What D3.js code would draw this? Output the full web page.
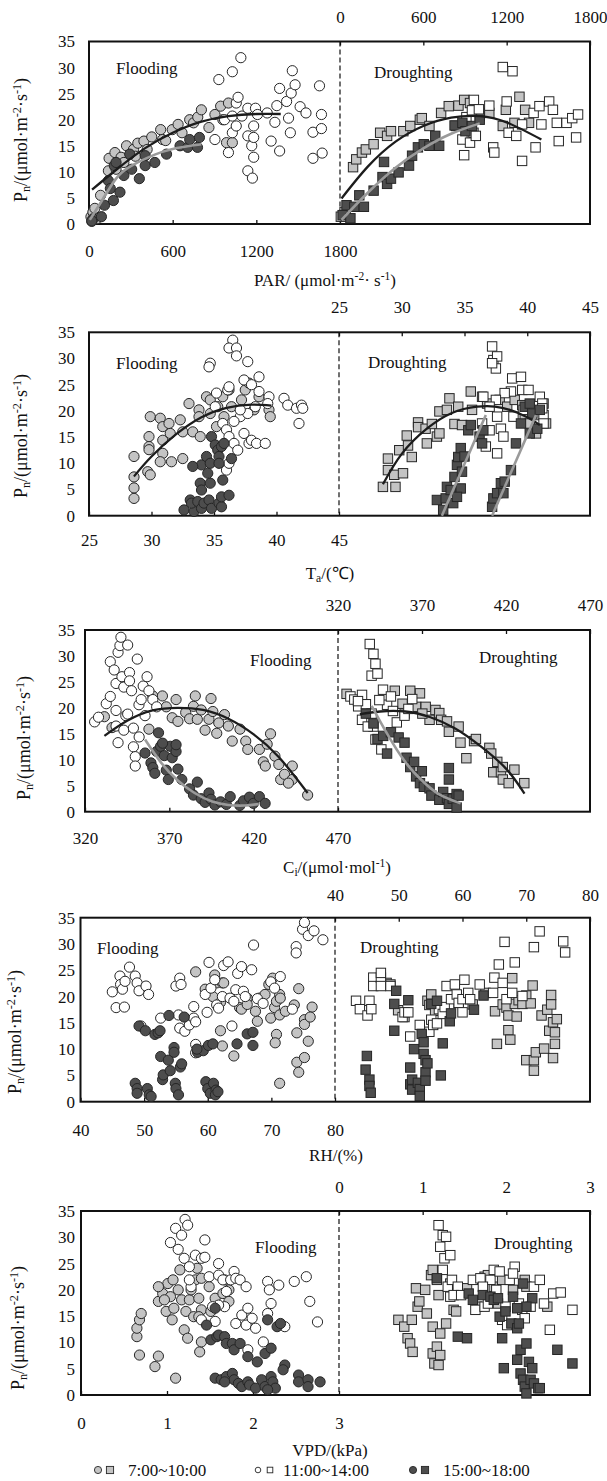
<!DOCTYPE html>
<html>
<head>
<meta charset="utf-8">
<script src="https://cdn.jsdelivr.net/npm/d3@7"></script>
<style>
  body { margin: 0; background: #fff; }
  svg text { font-family: "Liberation Serif", "Times New Roman", serif; }
</style>
</head>
<body>
<svg id="chart" width="607" height="1481"></svg>
<script>
// ---- shared ticks ----
const pnTicks = [0, 5, 10, 15, 20, 25, 30, 35];
const parTicks = [0, 600, 1200, 1800];
const taTicks = [25, 30, 35, 40, 45];
const ciTicks = [320, 370, 420, 470];
const rhTicks = [40, 50, 60, 70, 80];
const vpdTicks = [0, 1, 2, 3];
const legendLabels = ["7:00~10:00", "11:00~14:00", "15:00~18:00"];

// ---- PAR panel ----
const parFloodAM = [[14,1.4],[28,2.3],[42,3],[56,1],[20,0.5],[83,5.5],[139,10.2],[144,12.6],[186,13.7],[194,10.5],[230,12.8],[250,11.8],[269,15],[319,14.3],[333,13],[350,15.5],[394,15.9],[417,14.3],[450,16.7],[514,18.1],[528,16.2],[550,16],[597,18.1],[639,19.1],[667,17.5],[722,20],[750,19.4],[780,20.5],[806,21.9],[860,18.5],[903,21],[944,22.6],[960,20],[986,15.6],[1000,23.2],[1028,15.6]];
const parFloodNoon = [[903,16.2],[931,27.7],[972,20],[1000,13.7],[1028,29.2],[1028,17.5],[1028,20.7],[1056,18.8],[1056,23.2],[1069,24.3],[1089,31.9],[1097,20.7],[1139,22.2],[1139,16.9],[1139,10.2],[1167,15],[1172,8.8],[1181,16.6],[1181,12.8],[1181,18.8],[1194,22.2],[1208,21],[1278,21.3],[1306,15.9],[1333,19.5],[1347,22.7],[1367,26],[1367,14],[1417,23.5],[1431,20.3],[1444,17.5],[1450,25.1],[1458,29.4],[1478,26.7],[1514,22.5],[1556,21.3],[1606,17.6],[1606,12.6],[1653,26.5],[1667,21],[1667,18.3],[1672,13.6]];
const parFloodPM = [[28,1],[20,0.6],[89,1.4],[111,3.6],[139,8.3],[153,6.8],[175,4.5],[181,11.2],[194,11.8],[222,6.1],[250,9.3],[292,13.4],[306,10.5],[361,8.7],[403,13.1],[403,11.2],[472,11.8],[556,13.4],[653,15],[708,14.7],[722,16.2],[778,14.7],[792,16.6]];
const parFloodFitAM = [[22,6.6],[200,10.5],[400,14.5],[600,17.5],[800,19.6],[1000,20.7],[1200,21.1],[1375,21.1]];
const parFloodFitPM = [[6,0.8],[100,4.8],[194,8.7],[300,11.1],[472,13.3],[600,14.4],[750,15.1],[806,15.3]];
const parDroughtAM = [[6,1.4],[33,2.3],[42,1.4],[94,10.9],[117,12.4],[158,13.7],[186,14.3],[242,15.3],[289,17.5],[339,16.9],[367,17.8],[456,17.8],[506,18.8],[575,20],[589,20.3],[644,18.8],[728,21.3],[783,22.6],[836,18.8],[853,22.7],[894,23.8],[936,23.2],[961,17.5],[1006,20.7],[1075,21.3],[1172,18.8],[1194,21.9],[1256,19.4],[1292,24.4],[1333,21.9],[1361,19.4]];
const parDroughtNoon = [[881,16.2],[894,13.2],[910,20.5],[936,15.6],[950,21.8],[964,23.8],[978,16.9],[1000,22],[1075,22.7],[1103,14.7],[1111,13.7],[1172,30.1],[1200,23.5],[1214,17.5],[1242,29.3],[1269,16.9],[1311,12.1],[1311,19.1],[1394,21.3],[1408,14.7],[1436,22.6],[1450,19.1],[1506,23.5],[1533,21.9],[1561,19.4],[1575,15.9],[1631,19.4],[1672,20.3],[1700,16.6],[1714,21]];
const parDroughtPM = [[19,1.7],[47,3.6],[75,1.1],[103,3.3],[139,5.5],[172,3.3],[242,6.4],[306,9],[317,11.9],[339,7.7],[367,8.7],[422,9.9],[497,11.2],[519,13.1],[561,14.7],[603,15.3],[644,15],[686,16.9],[714,15],[825,18.9],[881,19.4],[903,17.8],[950,18.8],[1006,20]];
const parDroughtFitAM = [[11,4.9],[200,11],[400,15.8],[600,18.8],[800,20.4],[1006,20.7],[1200,19.5],[1450,16.2]];
const parDroughtFitPM = [[11,0.8],[200,6],[400,10.8],[600,14.5],[800,17.3],[1006,19.3]];

// ---- Ta panel ----
const taFloodAM = [[28.6,7.4],[28.6,5.3],[28.6,3.3],[28.6,11.3],[29.7,8.4],[29.9,7.8],[29.8,13.2],[29.8,15.1],[29.8,12.6],[29.9,18.9],[30.7,18.6],[30.9,17],[30.9,14.4],[30.9,11.9],[30.7,10.3],[31.6,10.3],[31.4,17.6],[31.5,15.7],[32.3,18.3],[32.5,10.9],[32.5,16],[33,21.4],[33.3,16],[33.8,20.2],[33.8,18.9],[33.9,15.1],[34.4,22.7],[34.7,19.5],[35.2,17],[35.3,20.8],[35.7,22.7],[36.2,24],[36.4,20.8],[37.2,22.1],[37.5,24],[37.8,25.3],[38.2,20.2],[38.6,22.7],[39.4,20.2],[39.5,18.9],[34.7,22.1],[35.8,18.9]];
const taFloodNoon = [[36.5,33.5],[36.2,32],[36.8,32],[36.8,30.5],[37.7,29.4],[34.7,29.1],[34.6,28.4],[37.4,25.9],[38.6,26.5],[38,25],[38.6,23.7],[39.4,22.7],[36.1,24],[36.2,24.6],[35.2,23.4],[35.1,20.8],[35.7,17.6],[36,16.4],[36.2,15.1],[36.6,13.8],[36.9,12.5],[37.4,15.7],[37.8,13.8],[38,14.4],[38.4,13.8],[39.1,13.8],[37.1,18.9],[37.7,19.5],[38.3,20.8],[39.3,21.4],[40.6,22.4],[40.9,21.1],[41.6,20.5],[42,21.1],[42.1,20.5],[41.8,17.6],[36,8.7],[36.2,10],[36.6,18],[37.1,20.2]];
const taFloodPM = [[32.6,1.1],[33.1,3],[33.4,0.8],[33.2,2.4],[33.7,2.7],[34,1.4],[34.2,2.4],[34.6,3],[34.8,1.4],[33.9,6.2],[34,4.9],[34,9.7],[34.4,11.3],[34.5,8.1],[34.7,6.2],[34.7,10],[34.8,15.1],[35.1,13.5],[35.3,12.5],[35.4,11.3],[35.4,10],[35.6,13.2],[35.7,6.8],[35.8,13.8],[35.4,2.4],[35.6,1.7],[35.6,3.6],[36.2,3.9],[36.4,10.9],[33.3,9.4]];
const taFloodFitAM = [[28.6,7.5],[30,11.3],[32,15.6],[34,18.8],[36,20.6],[38,21.2],[39.6,21]];
const taDroughtAM = [[28.5,5.5],[28.9,10.9],[28.9,8.7],[29.4,7.8],[29.5,5.5],[29.8,12.5],[30.1,8.1],[30.4,15.3],[30.5,13.4],[30.8,11.2],[31.3,17.8],[31.3,16.9],[31.9,16.6],[32,13.8],[32.4,17.5],[32.8,15.1],[33,15.7],[33,19.9],[33.6,20.2],[33.8,22.4],[34.2,17.5],[34.5,20.8],[34.8,17.3],[35.5,23.7],[35.6,20.2],[36.4,22.7],[36.8,21.4],[37.8,22.1],[38.4,20.8],[39,22.1],[39.6,21.1],[39.8,18.9],[40.2,17.6],[40.7,15.7],[41,19.2],[41.3,21.4],[41.5,17.6]];
const taDroughtNoon = [[37.2,32.3],[37.3,29.7],[37.6,30.4],[37.5,28.1],[37.2,29.1],[38.8,26.2],[39.5,26.5],[39.6,24],[40.1,24],[38.7,23.7],[38.2,23.4],[37.5,22.1],[37,20.8],[36.5,22.7],[37.6,18.9],[37.9,16.6],[38.1,15.1],[37.6,11.9],[36.7,13.2],[36.4,17.6],[37,16.3],[38.9,18.9],[39.7,20.2],[41,22.7],[41.2,21.4],[41.3,19.2],[41.3,17.6],[41.2,20.5]];
const taDroughtPM = [[32.8,3],[33.3,1.1],[33.5,3.3],[33.6,5.5],[33.9,4.9],[34.1,2.4],[34.2,7.4],[34.4,9.7],[34.5,11.2],[34.7,12.9],[34.8,8.4],[34.7,5.2],[34.4,3.6],[35,11.3],[35.3,16.3],[35.5,17.3],[36.2,15.1],[36.4,13.8],[36.5,16.3],[37.2,1.7],[37.3,3.3],[37.6,4.3],[37.9,6.2],[38.1,4.3],[38.2,6.5],[38.7,8.7],[39.1,13.8],[39.5,17.6],[39.8,20.8],[40.2,21.4],[40.4,19.5],[40.2,15.7],[40.8,16.6],[41,20.2]];
const taDroughtFitAM = [[28.5,6],[30,11.8],[32,16.6],[34,19.6],[36,20.8],[38,20.6],[40,18.8],[41,17.3]];
const taDroughtFitPM1 = [[33.2,0],[36.7,19.2]];
const taDroughtFitPM2 = [[37.2,0],[40.7,19.2]];

// ---- Ci panel ----
const ciFloodAM = [[331.5,18.3],[336,16.2],[357.9,15.9],[360.2,22.3],[365.9,22.3],[368.2,20.2],[371.7,18.1],[374,21.6],[375.1,17.4],[379.7,19.1],[382,17.9],[384.3,20.3],[385.4,22.3],[386.6,17.8],[388.9,19.6],[391.2,15.7],[393.5,17.8],[394.7,21.8],[395.8,19.3],[398.1,15.1],[399.3,17.1],[402.7,18.7],[405,16.5],[407.3,13.6],[411.9,15.9],[415.3,13.6],[416.5,12],[423.4,12],[425.7,9.6],[426.9,8.8],[428,13],[432.6,10.7],[434.9,9.1],[436,6.2],[438.3,7.2],[442.9,8.8],[442.9,6.2],[440.6,5.5],[452,3.2],[430,15]];
const ciFloodNoon = [[325.7,17.3],[328,18.2],[332.6,20.8],[335,22.2],[335,28.9],[337.3,27.3],[338.4,24.7],[339.6,30.7],[340.7,32],[341.3,33.6],[341.9,26],[343,24],[344.2,18.5],[345.3,32.1],[346.4,26.8],[346.4,25.2],[347.6,23.3],[348.7,12.5],[349.8,10.6],[349.8,8.8],[351,29.4],[352,20.6],[353.3,21.6],[354.5,24.2],[355.6,18.5],[356.8,26],[357.9,23.3],[360.2,21.6],[362.5,20.2],[338.4,16.5],[339.6,13.3],[343,15.7],[345.3,18.8],[338.4,19.5],[348.7,16.1],[352.1,14.4]];
const ciFloodPM = [[355.6,11.3],[359.1,9.4],[360.2,8.5],[361.4,7.4],[362.5,11.6],[363.6,15.2],[364.8,12.6],[367,10.8],[368.2,8],[369.4,6.2],[370.5,12.6],[371.7,10.4],[374,11.6],[375.1,8.2],[377.4,6.2],[382,4.4],[384.3,3.2],[386.6,5.7],[388.9,2.5],[391.2,1.8],[393.5,3.6],[394.7,2.4],[397,1.3],[400.4,1.9],[403.8,1.4],[406.1,2.9],[411.8,1.2],[414,2.1],[417.5,2.8],[419.8,1.6],[423.4,2.9],[426.8,1.6],[374,12.9],[366,13.2]];
const ciFloodFitAM = [[331.5,14.6],[345,17.5],[360,19.5],[375,20],[390,19.6],[405,17.9],[420,14.9],[435,10.5],[452,3.6]];
const ciFloodFitPM = [[355.6,13.9],[365,9.5],[375,6],[385,3.6],[395,2],[405,1.3],[415,1.2],[423,1.5]];
const ciDroughtAM = [[325.1,22.7],[353.8,23.3],[358.4,20.8],[363,23.3],[366.5,20.2],[368.8,22.8],[372.2,20.2],[374.5,17.7],[378,19.6],[380.3,19],[381.4,17.7],[384.9,17.4],[386,15.4],[391.8,16.4],[392.9,13.3],[396.4,10.3],[401,13.6],[402.1,14],[410.1,12.3],[411.2,11.2],[412.4,7.6],[414.8,9.6],[417,7.6],[418.1,8.6],[418.1,6.2],[421.6,5.5],[425,8.1],[430.9,5.5],[370.2,18.9],[359.7,18.9]];
const ciDroughtNoon = [[327.4,22.2],[329.7,21.6],[332,20.3],[334.3,22.5],[336.6,20.7],[337.7,18.1],[338.9,32.3],[340,26.2],[341.1,30.4],[342.3,28.5],[343.5,26.6],[341.1,16.4],[342.3,13.9],[345.8,12],[346.8,23.5],[349.2,20.6],[351.5,22.2],[352.7,19.4],[355,17.2],[359.6,18.5],[361.9,19.8],[364.2,21.7],[334.3,17.7],[337.7,16.4],[340,18.9],[331.9,21.3],[344.6,21.5]];
const ciDroughtPM = [[336.6,18.9],[341.1,17],[343.5,14],[346.9,14.6],[349.2,11.2],[351.5,15.3],[356.1,14.3],[359.6,13.3],[360.8,10.4],[363,8.6],[365.3,9.6],[366.5,6.8],[368.8,5.5],[369.9,7.8],[371.1,4.8],[374.5,4.5],[375.6,3.1],[380.3,2.3],[382.6,3.8],[384.9,2.6],[386,1.5],[388.3,2.5],[390.6,0.8],[390.6,3.4],[386,8.4],[386,6.2],[391.8,3.1]];
const ciDroughtFitAM = [[333,18.8],[345,19.3],[360,19.3],[375,18.2],[390,16],[405,12.6],[420,8.3],[431,3.5]];
const ciDroughtFitPM = [[340,20.4],[350,14.6],[360,9.6],[370,6],[380,3.4],[393,1.6]];

// ---- RH panel ----
const rhFloodAM = [[58.1,24.7],[61.1,24.1],[61.4,22.6],[59.6,21.4],[60.8,20],[62.3,22.6],[62.5,22.6],[62,13.5],[62.3,10.6],[62,18.9],[64.1,8.7],[65,17.9],[65.3,17.6],[66.2,19.7],[66.2,18.5],[67.5,17.2],[67.8,15.3],[68.1,19.7],[69,20.4],[69.6,22.3],[69.9,15.9],[70.2,23.5],[70.5,17.9],[70.8,19.1],[70.8,12.8],[70.6,11.2],[71.3,20.4],[71.3,16.5],[71.3,3.5],[72.2,17.2],[73.6,18.4],[74,13.1],[74.3,21.5],[74,7.5],[75.2,8.4],[74.3,5.6],[75.2,15.6],[75.2,14.7],[75.8,11.5],[76.4,18],[76.1,16.1],[71.4,19.7]];
const rhFloodNoon = [[45,20.9],[45.6,17.9],[46.2,23.9],[46.3,22.3],[46.6,21.4],[46.9,18],[47,22.9],[47.7,25.6],[48.6,23.9],[48.9,22.6],[49.2,21.1],[49.5,14.4],[50.3,22],[50.7,20.4],[52.6,15.9],[55,22],[55.6,23.5],[55.8,22.3],[55.4,16.5],[55.6,14],[56.4,13.4],[57.1,14.6],[57.8,18.1],[57.8,15.9],[58.1,10.9],[58.1,9.3],[58.1,15.2],[59.6,20.4],[59.9,17],[60.2,26.5],[60.5,21.6],[61.1,23.2],[61.4,18.4],[61.7,17.8],[62.3,20],[62.5,25.9],[63.2,26.6],[63.5,19.7],[63.8,14.4],[64.1,19.1],[64.4,21.3],[64.7,24.4],[65.3,25.7],[65.6,21],[65.9,20],[66.9,25.1],[67.2,29.8],[67.8,19.6],[68.7,18.7],[69.9,22.8],[70.5,21.6],[71.4,23.8],[73.9,29.5],[73.9,28.3],[74.9,32.8],[75.2,34.1],[75.8,31.6],[76.7,32.5],[78.1,30.8],[73.3,17.6]];
const rhFloodPM = [[48.6,3.5],[48.9,2.5],[48.9,1.6],[49.2,14.4],[50.2,13.5],[50.5,2.5],[50.8,1.3],[51.1,1],[51.7,12.8],[52.2,13.1],[52.5,13.5],[52.6,8.6],[52.9,4.2],[53,5.1],[53.8,7.9],[53.9,16.4],[54.1,5.9],[54.7,10.3],[54.7,9.4],[54.9,3.5],[55,2.5],[55.4,1.3],[55.7,6.6],[55.9,7.2],[56.3,16.1],[58.4,9.4],[59.3,9.7],[60.1,10.7],[60.8,11],[59.7,3.8],[60,2.5],[60.4,1.6],[60.9,3.5],[61.3,2.2],[61.2,1.3],[61.6,1.9],[64.6,11],[66.2,12.9],[67.1,13.2],[67.1,10.7],[58.3,10]];
const rhDroughtAM = [[48.1,22.6],[48.7,22.3],[49.9,17.4],[50.9,16.1],[54.5,19.2],[54.8,18.4],[55.1,20.4],[55.7,17.3],[59.4,18.8],[61.6,18.5],[63.6,20.7],[65.1,17.2],[65.4,11],[66.3,18.5],[66.9,17.9],[67.2,16.4],[67.2,13.6],[67.5,11.8],[67.8,23.5],[68.2,18.6],[68.5,16.2],[68.8,19.3],[69.4,18.6],[70,20.2],[70,7.9],[71,22.1],[71.2,7.9],[71.2,5.9],[71.5,9.4],[72.4,16.4],[72.8,10.1],[73.3,17.5],[73.9,20.3],[73.9,18.5],[73.6,13.5],[74.2,15.1],[74.2,8.3],[74.5,11],[74.5,13.2],[74.8,15.7],[70.7,18.7]];
const rhDroughtNoon = [[43.3,19.2],[43.9,17.6],[45.1,16.4],[45.4,19.2],[45.7,17.6],[46,23.6],[46,22],[47.2,23.6],[47.2,24.5],[47.2,22],[48.7,22],[50.6,16.1],[50.9,17],[51.5,17],[51.8,12.4],[53.3,14.6],[54.8,13.3],[55.1,15.6],[55.4,14.6],[56,14.9],[56.3,17.6],[56.9,16.7],[57.2,18],[57.5,22],[58.2,19.5],[58.8,22.3],[59.1,20.4],[59.4,18.8],[60,19.5],[60.3,23.2],[60,17],[60.9,20.7],[61.2,19.5],[62.7,22.3],[64.8,20.7],[65,23.6],[65.7,26.1],[66.3,22.6],[66.6,30.4],[66.9,19.5],[68.2,26.5],[71.2,29.4],[72.1,32.4],[75.8,30.5],[76.1,28.4],[67.8,20.7],[69.4,20.1]];
const rhDroughtPM = [[45,8.7],[44.8,6.1],[45.4,4.2],[45.4,3],[45.6,1.7],[49.3,18.6],[49.3,13.5],[49.6,21.1],[51.5,19.3],[51.8,3.3],[51.8,6.5],[52.1,2.3],[52.1,4.2],[52.4,10],[53,3.6],[53.3,2.4],[53.3,1.1],[53.6,12.9],[53.9,11.3],[53.9,9.1],[54.2,7.9],[54.2,5.6],[54.2,4],[54.5,7.3],[55.1,18.6],[56,19.2],[56.9,11.1],[56.6,5],[58,15.3],[58.2,16.8],[61.8,17.5],[63.3,20.2]];

// ---- VPD panel ----
const vpdFloodAM = [[0.65,11.1],[0.65,12.7],[0.68,14.3],[0.7,15.5],[0.68,7.6],[0.86,5.4],[0.9,7.4],[0.9,17.8],[0.95,19.3],[0.99,15.9],[1.01,21.2],[1.04,18.7],[1.06,14.3],[1.08,16.5],[1.1,3.2],[1.13,20],[1.15,23.8],[1.17,18.1],[1.2,12.4],[1.22,15.9],[1.24,10.8],[1.26,18.1],[1.28,20],[1.31,14.9],[1.33,21.9],[1.35,24.1],[1.37,18.4],[1.4,16.2],[1.37,14.9],[1.4,22.2],[1.49,20.6],[1.38,8.2],[1.4,10.1],[1.51,15.9],[1.56,18.4],[1.65,19.3],[1.72,20],[1.72,17.8],[1.67,21.9],[0.9,20.6],[0.97,18.1],[1.07,21.9]];
const vpdFloodNoon = [[1.04,29],[1.13,27.7],[1.1,31.7],[1.17,30.4],[1.21,33.4],[1.24,32.3],[1.2,26],[1.26,24.4],[1.33,26.6],[1.4,26],[1.44,29.5],[1.44,26.2],[1.28,20.6],[1.26,21.9],[1.49,22.5],[1.6,25],[1.6,22.8],[1.65,21.9],[1.67,16.8],[1.69,19.7],[1.74,21.9],[1.78,23.5],[1.8,22.2],[1.85,21.9],[1.92,20.6],[1.8,13.6],[1.87,15.2],[1.92,13.3],[1.94,8.6],[1.99,14.6],[2.03,12.7],[1.94,16.5],[2.12,10.1],[2.17,21.6],[2.19,20],[2.21,17.4],[2.17,15.5],[2.3,20.9],[2.37,13],[2.48,21.6],[2.62,22.5],[2.66,17.8],[2.75,13.9],[1.56,14],[1.4,14.3],[1.6,17.1],[1.53,16.8]];
const vpdFloodPM = [[1.46,13.3],[1.56,16.5],[1.51,10.5],[1.58,11.1],[1.6,11.4],[1.67,11.1],[1.69,9.8],[1.76,9.8],[1.78,8.6],[1.85,9.8],[1.94,7.3],[2.05,6.3],[2.14,7.9],[2.21,8.9],[2.17,14.3],[2.28,13],[2.32,13.6],[2.37,5.7],[2.35,4.8],[1.56,3.2],[1.63,2.9],[1.69,3.5],[1.76,4.1],[1.78,2.9],[1.83,2.2],[1.87,1.6],[1.94,2.5],[1.96,1.9],[2.03,1.3],[2.1,2.9],[2.14,1.6],[2.21,3.5],[2.23,2.5],[2.26,1.3],[2.17,1],[2.53,3.8],[2.53,2.5],[2.64,2.9],[2.64,1.6],[2.78,2.5],[1.67,2.5]];
const vpdDroughtAM = [[0.71,14.3],[0.78,13],[0.82,10.8],[0.85,9.8],[0.88,8.2],[0.87,14.3],[0.92,20.3],[0.94,16.8],[0.96,17.8],[1.03,20],[1.05,15.5],[1.1,22.8],[1.12,23.8],[1.12,13],[1.12,7.9],[1.14,6],[1.17,9.2],[1.19,5.7],[1.21,7.6],[1.19,19],[1.21,11.7],[1.28,13.6],[1.33,21.2],[1.37,16.2],[1.4,15.9],[1.53,20.3],[1.65,16.8],[1.74,22.5],[1.78,22.8],[1.85,20.6],[1.9,17.4],[1.95,21.9],[2.08,20],[2.22,21.9],[2.49,16.8],[2.24,20.6]];
const vpdDroughtNoon = [[1.19,32.3],[1.21,28.2],[1.24,30.4],[1.28,30.1],[1.26,26],[1.33,26.6],[1.17,21.9],[1.24,23.8],[1.3,20.6],[1.33,18.7],[1.35,21.9],[1.42,20.6],[1.37,19],[1.46,19],[1.6,21.9],[1.63,16.2],[1.69,22.2],[1.74,16.8],[1.78,17.4],[1.81,21.9],[1.85,23.8],[1.88,20],[1.92,23.5],[1.95,14.3],[1.99,16.8],[2.01,13.3],[2.04,21.9],[2.1,24.4],[2.08,23.1],[2.15,17.4],[2.19,16.2],[2.22,14.6],[2.29,16.8],[2.33,20.6],[2.4,21.9],[2.45,17.4],[2.52,12.4],[2.56,19.3],[2.65,19.5],[2.79,16.2],[1.72,20.6]];
const vpdDroughtPM = [[1.17,22.2],[1.42,11.1],[1.53,10.8],[1.55,19.3],[1.6,18.1],[1.72,19],[1.81,18.7],[1.85,18.1],[1.9,18.4],[1.92,14.9],[1.95,10.8],[1.97,5.1],[1.99,15.9],[2.06,13.6],[2.08,18.7],[2.13,6.7],[2.13,12.7],[2.15,13.6],[2.17,8.6],[2.17,4.1],[2.2,2.9],[2.22,1.6],[2.24,0.3],[2.24,9.8],[2.27,6.3],[2.29,2.9],[2.31,5.1],[2.33,2.2],[2.38,1.3],[2.4,1.3],[2.31,18.4],[2.24,16.8],[2.13,16.5],[2.61,8.6],[2.79,6],[2.2,21.2]];

// ---- styling ----
const SERIF = "'Liberation Serif', 'Times New Roman', serif";
const fills = ["#c4c4c4", "#ffffff", "#4d4d4d"];
const markStroke = "#262626";

const svg = d3.select("#chart");

function richText(sel, parts, size) {
  parts.forEach(([t, kind]) => {
    const ts = sel.append("tspan").text(t);
    if (kind === "sub") ts.attr("baseline-shift", -size * 0.18).attr("font-size", size * 0.68);
    if (kind === "sup") ts.attr("baseline-shift", size * 0.36).attr("font-size", size * 0.68);
  });
}

const pnTitle = [["P"], ["n", "sub"], ["/(μmol·m"], ["-2", "sup"], ["·s"], ["-1", "sup"], [")"]];

const panels = [
  { top: 41.5, bottom: 224, left: 89, mid: 340, domain: [0, 1800], ticks: parTicks,
    padB: 20.5, padT: 19, yTitleX: 27, yTitleY: 140, xTitleY: 280, xTitleX: 325,
    xTitle: [["PAR/ (μmol·m"], ["-2", "sup"], ["· s"], ["-1", "sup"], [")"]],
    flood: [parFloodAM, parFloodNoon, parFloodPM], drought: [parDroughtAM, parDroughtNoon, parDroughtPM],
    floodFits: [[parFloodFitAM, 0], [parFloodFitPM, 1]], droughtFits: [[parDroughtFitAM, 0], [parDroughtFitPM, 1]],
    fLabel: [116, 74], dLabel: [374, 78] },
  { top: 332.3, bottom: 515.7, left: 89, mid: 339, domain: [25, 45], ticks: taTicks,
    padB: 18, padT: 19, yTitleX: 27, yTitleY: 436, xTitleY: 573, xTitleX: 330,
    xTitle: [["T"], ["a", "sub"], ["/(℃)"]],
    flood: [taFloodAM, taFloodNoon, taFloodPM], drought: [taDroughtAM, taDroughtNoon, taDroughtPM],
    floodFits: [[taFloodFitAM, 0]], droughtFits: [[taDroughtFitAM, 0], [taDroughtFitPM1, 1], [taDroughtFitPM2, 1]],
    fLabel: [116, 369], dLabel: [368, 368] },
  { top: 630, bottom: 811.7, left: 85, mid: 338, domain: [320, 470], ticks: ciTicks,
    padB: 20, padT: 19.5, yTitleX: 30, yTitleY: 738, xTitleY: 867, xTitleX: 337,
    xTitle: [["C"], ["i", "sub"], ["/(μmol·mol"], ["-1", "sup"], [")"]],
    flood: [ciFloodAM, ciFloodNoon, ciFloodPM], drought: [ciDroughtAM, ciDroughtNoon, ciDroughtPM],
    floodFits: [[ciFloodFitAM, 0], [ciFloodFitPM, 1]], droughtFits: [[ciDroughtFitAM, 0], [ciDroughtFitPM, 1]],
    fLabel: [250, 666], dLabel: [479, 663] },
  { top: 917.7, bottom: 1101.7, left: 80.5, mid: 335, domain: [40, 80], ticks: rhTicks,
    padB: 22, padT: 17, yTitleX: 21, yTitleY: 1032, xTitleY: 1155, xTitleX: 336,
    xTitle: [["RH/(%)"]],
    flood: [rhFloodAM, rhFloodNoon, rhFloodPM], drought: [rhDroughtAM, rhDroughtNoon, rhDroughtPM],
    floodFits: [], droughtFits: [],
    fLabel: [97, 954], dLabel: [360, 953] },
  { top: 1211, bottom: 1395, left: 81, mid: 339, domain: [0, 3], ticks: vpdTicks,
    padB: 22, padT: 18.5, yTitleX: 24, yTitleY: 1328, xTitleY: 1450, xTitleX: 330,
    xTitle: [["VPD/(kPa)"]],
    flood: [vpdFloodAM, vpdFloodNoon, vpdFloodPM], drought: [vpdDroughtAM, vpdDroughtNoon, vpdDroughtPM],
    floodFits: [], droughtFits: [],
    fLabel: [255, 1253], dLabel: [494, 1249] }
];
const RIGHT = 590;

function drawPanel(p) {
  const g = svg.append("g");
  const y = d3.scaleLinear().domain([0, 35]).range([p.bottom, p.top]);
  const xF = d3.scaleLinear().domain(p.domain).range([p.left, p.mid]);
  const xD = d3.scaleLinear().domain(p.domain).range([p.mid, RIGHT]);
  const fmt = d => String(d);

  // left axis labels
  const axL = g.append("g").attr("transform", `translate(${p.left},0)`)
    .call(d3.axisLeft(y).tickValues(pnTicks).tickFormat(fmt).tickSize(0).tickPadding(p.left - 75));
  axL.select(".domain").remove();

  // bottom axis (flooding scale) with inward ticks
  const axB = g.append("g").attr("transform", `translate(0,${p.bottom})`)
    .call(d3.axisBottom(xF).tickValues(p.ticks).tickFormat(fmt).tickSizeInner(-4).tickSizeOuter(0).tickPadding(p.padB));
  axB.select(".domain").remove();

  // top axis (droughting scale)
  const axT = g.append("g").attr("transform", `translate(0,${p.top})`)
    .call(d3.axisTop(xD).tickValues(p.ticks).tickFormat(fmt).tickSizeInner(-4).tickSizeOuter(0).tickPadding(p.padT));
  axT.select(".domain").remove();

  [axL, axB, axT].forEach(a => a.attr("font-family", SERIF).attr("font-size", 17));
  g.selectAll(".tick text").attr("fill", "#111");
  g.selectAll(".tick line").attr("stroke", "#111").attr("stroke-width", 1.3);

  // frame and divider
  g.append("rect").attr("x", p.left).attr("y", p.top)
    .attr("width", RIGHT - p.left).attr("height", p.bottom - p.top)
    .attr("fill", "none").attr("stroke", "#111").attr("stroke-width", 2);
  g.append("line").attr("x1", p.mid).attr("x2", p.mid).attr("y1", p.top).attr("y2", p.bottom)
    .attr("stroke", "#111").attr("stroke-width", 1.2).attr("stroke-dasharray", "5,3");

  // flooding circles
  p.flood.forEach((series, i) => {
    g.append("g").selectAll("circle").data(series).join("circle")
      .attr("cx", d => xF(d[0])).attr("cy", d => y(d[1])).attr("r", 5.1)
      .attr("fill", fills[i]).attr("stroke", markStroke).attr("stroke-width", 1);
  });
  // droughting squares
  p.drought.forEach((series, i) => {
    g.append("g").selectAll("rect").data(series).join("rect")
      .attr("x", d => xD(d[0]) - 4.7).attr("y", d => y(d[1]) - 4.7)
      .attr("width", 9.4).attr("height", 9.4)
      .attr("fill", fills[i]).attr("stroke", markStroke).attr("stroke-width", 1);
  });

  // fitted curves
  const fitStyle = [{ c: "#1c1c1c", w: 2.3 }, { c: "#9a9a9a", w: 2.6 }];
  const drawFits = (fits, xs) => fits.forEach(([pts, k]) => {
    const line = d3.line().x(d => xs(d[0])).y(d => y(d[1])).curve(d3.curveNatural);
    g.append("path").attr("d", line(pts)).attr("fill", "none")
      .attr("stroke", fitStyle[k].c).attr("stroke-width", fitStyle[k].w);
  });
  drawFits(p.floodFits, xF);
  drawFits(p.droughtFits, xD);

  // treatment labels
  g.append("text").attr("x", p.fLabel[0]).attr("y", p.fLabel[1]).attr("font-family", SERIF)
    .attr("font-size", 17).attr("fill", "#111").text("Flooding");
  g.append("text").attr("x", p.dLabel[0]).attr("y", p.dLabel[1]).attr("font-family", SERIF)
    .attr("font-size", 17).attr("fill", "#111").text("Droughting");

  // axis titles
  const yt = g.append("text").attr("transform", `translate(${p.yTitleX},${p.yTitleY}) rotate(-90)`)
    .attr("text-anchor", "middle").attr("font-family", SERIF).attr("font-size", 18).attr("fill", "#111");
  richText(yt, pnTitle, 18);
  const xt = g.append("text").attr("x", p.xTitleX).attr("y", p.xTitleY + 6)
    .attr("text-anchor", "middle").attr("font-family", SERIF).attr("font-size", 17).attr("fill", "#111");
  richText(xt, p.xTitle, 17);
}

panels.forEach(drawPanel);

// legend
const legend = svg.append("g").attr("transform", "translate(0,1470)");
const legX = [98, 258, 413];
const legR = [3.6, 2.8, 3.6];
legendLabels.forEach((lab, i) => {
  const gx = legend.append("g").attr("transform", `translate(${legX[i]},0)`);
  gx.append("circle").attr("cx", 0).attr("cy", 0).attr("r", legR[i])
    .attr("fill", fills[i]).attr("stroke", markStroke).attr("stroke-width", 0.9);
  gx.append("rect").attr("x", 12 - legR[i]).attr("y", -legR[i]).attr("width", legR[i] * 2).attr("height", legR[i] * 2)
    .attr("fill", fills[i]).attr("stroke", markStroke).attr("stroke-width", 0.9);
  gx.append("text").attr("x", i === 1 ? 25 : 30).attr("y", 6).attr("font-family", SERIF)
    .attr("font-size", 17).attr("fill", "#111").text(lab);
});
</script>
</body>
</html>
